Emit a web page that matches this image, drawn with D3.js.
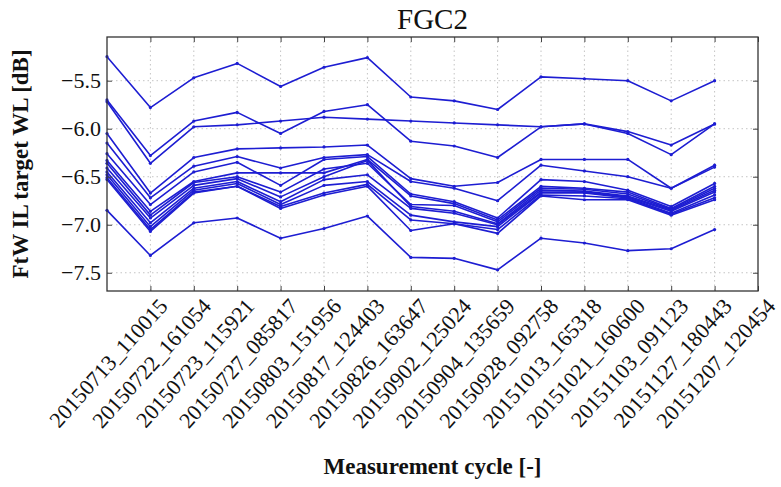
<!DOCTYPE html>
<html>
<head>
<meta charset="utf-8">
<script src="https://cdn.jsdelivr.net/npm/d3@7/dist/d3.min.js"></script>
<style>
  html, body { margin: 0; padding: 0; background: #fff; }
  svg { display: block; }
  svg text { font-family: "Liberation Serif", "Times New Roman", serif; }
</style>
</head>
<body>
<svg id="chart" width="781" height="487"></svg>
<script>
// ---- data ----
const categories = [
  "20150713_110015", "20150722_161054", "20150723_115921", "20150727_085817",
  "20150803_151956", "20150817_124403", "20150826_163647", "20150902_125024",
  "20150904_135659", "20150928_092758", "20151013_165318", "20151021_160600",
  "20151103_091123", "20151127_180443", "20151207_120454"
];
const yTicks = [-5.5, -6.0, -6.5, -7.0, -7.5];

const s01 = [-5.25, -5.78, -5.47, -5.32, -5.56, -5.36, -5.26, -5.67, -5.71, -5.80, -5.46, -5.48, -5.50, -5.71, -5.50];
const s02 = [-5.70, -6.28, -5.92, -5.83, -6.05, -5.82, -5.75, -6.13, -6.18, -6.30, -5.98, -5.95, -6.05, -6.27, -5.95];
const s03 = [-5.72, -6.36, -5.98, -5.96, -5.92, -5.88, -5.90, -5.92, -5.94, -5.96, -5.98, -5.95, -6.03, -6.17, -5.95];
const s04 = [-6.05, -6.67, -6.30, -6.21, -6.20, -6.19, -6.17, -6.52, -6.60, -6.56, -6.32, -6.32, -6.32, -6.62, -6.38];
const s05 = [-6.15, -6.72, -6.39, -6.29, -6.41, -6.30, -6.27, -6.55, -6.62, -6.75, -6.38, -6.44, -6.50, -6.62, -6.40];
const s06 = [-6.26, -6.79, -6.45, -6.35, -6.59, -6.32, -6.29, -6.68, -6.76, -6.93, -6.53, -6.55, -6.64, -6.81, -6.57];
const s07 = [-6.33, -6.86, -6.55, -6.46, -6.46, -6.46, -6.32, -6.70, -6.78, -6.95, -6.60, -6.62, -6.66, -6.83, -6.60];
const s08 = [-6.36, -6.90, -6.56, -6.50, -6.66, -6.42, -6.36, -6.79, -6.80, -6.97, -6.62, -6.63, -6.68, -6.84, -6.62];
const s09 = [-6.41, -6.93, -6.59, -6.52, -6.71, -6.50, -6.33, -6.81, -6.86, -6.99, -6.64, -6.65, -6.70, -6.85, -6.64];
const s10 = [-6.45, -6.98, -6.62, -6.55, -6.76, -6.53, -6.48, -6.83, -6.88, -7.00, -6.66, -6.66, -6.71, -6.86, -6.66];
const s11 = [-6.48, -7.02, -6.64, -6.57, -6.79, -6.59, -6.55, -6.90, -6.97, -7.02, -6.67, -6.67, -6.72, -6.88, -6.69];
const s12 = [-6.51, -7.05, -6.66, -6.60, -6.81, -6.67, -6.58, -6.95, -6.99, -7.05, -6.69, -6.70, -6.73, -6.89, -6.72];
const s13 = [-6.53, -7.07, -6.67, -6.60, -6.83, -6.69, -6.60, -7.06, -6.99, -7.09, -6.70, -6.74, -6.74, -6.90, -6.74];
const s14 = [-6.85, -7.32, -6.98, -6.93, -7.14, -7.04, -6.91, -7.34, -7.35, -7.47, -7.14, -7.19, -7.27, -7.25, -7.05];

const series = [s01, s02, s03, s04, s05, s06, s07, s08, s09, s10, s11, s12, s13, s14];

// ---- layout ----
const W = 781, H = 487;
const L = 107, R = 758, T = 37, B = 291;
const svg = d3.select("#chart");
const font = "'Liberation Serif', 'Times New Roman', serif";

const x = d3.scaleLinear().domain([0, categories.length]).range([L, R]);
const y = d3.scaleLinear().domain([-7.69, -5.045]).range([B, T]);
const xTickVals = d3.range(1, categories.length + 1);

// grid
const grid = svg.append("g");
grid.selectAll("line.gx").data(xTickVals.filter(d => d < categories.length)).join("line")
  .attr("x1", d => x(d)).attr("x2", d => x(d)).attr("y1", T).attr("y2", B)
  .attr("stroke", "#c4c4c4").attr("stroke-width", 1).attr("stroke-dasharray", "1.5,3");
grid.selectAll("line.gy").data(yTicks).join("line")
  .attr("x1", L).attr("x2", R).attr("y1", d => y(d)).attr("y2", d => y(d))
  .attr("stroke", "#c4c4c4").attr("stroke-width", 1).attr("stroke-dasharray", "1.5,3");

// lines
const lineGen = d3.line().x((d, i) => x(i)).y(d => y(d));
const blue = "#1d1dd2";
const lg = svg.append("g");
series.forEach(s => {
  lg.append("path").datum(s).attr("d", lineGen)
    .attr("fill", "none").attr("stroke", blue).attr("stroke-width", 1.6)
    .attr("stroke-linejoin", "round");
  lg.selectAll(null).data(s).join("circle")
    .attr("cx", (d, i) => x(i)).attr("cy", d => y(d)).attr("r", 1.6).attr("fill", blue);
});

// axes
const axB = svg.append("g").attr("transform", `translate(0,${B})`)
  .call(d3.axisBottom(x).tickValues(xTickVals).tickFormat(d => categories[d - 1])
    .tickSizeInner(-5).tickSizeOuter(0));
const axT = svg.append("g").attr("transform", `translate(0,${T})`)
  .call(d3.axisTop(x).tickValues(xTickVals).tickFormat("").tickSizeInner(-5).tickSizeOuter(0));
const axL = svg.append("g").attr("transform", `translate(${L},0)`)
  .call(d3.axisLeft(y).tickValues(yTicks).tickFormat(d3.format(".1f"))
    .tickSizeInner(-5).tickSizeOuter(0).tickPadding(6));
const axR = svg.append("g").attr("transform", `translate(${R},0)`)
  .call(d3.axisRight(y).tickValues(yTicks).tickFormat("").tickSizeInner(-5).tickSizeOuter(0));

[axB, axT, axL, axR].forEach(a => {
  a.attr("font-family", null);
  a.select(".domain").remove();
  a.selectAll(".tick line").attr("stroke", "#444").attr("stroke-width", 1);
});

axL.selectAll(".tick text")
  .style("font-family", font).style("font-size", "22px").attr("fill", "#111");

axB.selectAll(".tick text")
  .style("font-family", font).style("font-size", "22px").attr("fill", "#111")
  .attr("text-anchor", "end")
  .attr("x", 0).attr("y", 0).attr("dy", "0")
  .attr("transform", "translate(18,16) rotate(-48)");

// frame
svg.append("rect").attr("x", L).attr("y", T).attr("width", R - L).attr("height", B - T)
  .attr("fill", "none").attr("stroke", "#333").attr("stroke-width", 1.3);

// titles
svg.append("text").attr("x", (L + R) / 2).attr("y", 29)
  .attr("text-anchor", "middle").style("font-family", font).style("font-size", "29px")
  .attr("fill", "#111").text("FGC2");
svg.append("text").attr("x", (L + R) / 2).attr("y", 474)
  .attr("text-anchor", "middle").style("font-family", font).style("font-size", "23px")
  .attr("font-weight", "bold").attr("fill", "#111").text("Measurement cycle [-]");
svg.append("text")
  .attr("transform", `translate(28,${(T + B) / 2}) rotate(-90)`)
  .attr("text-anchor", "middle").style("font-family", font).style("font-size", "23px")
  .attr("font-weight", "bold").attr("fill", "#111").text("FtW IL target WL [dB]");
</script>
</body>
</html>
